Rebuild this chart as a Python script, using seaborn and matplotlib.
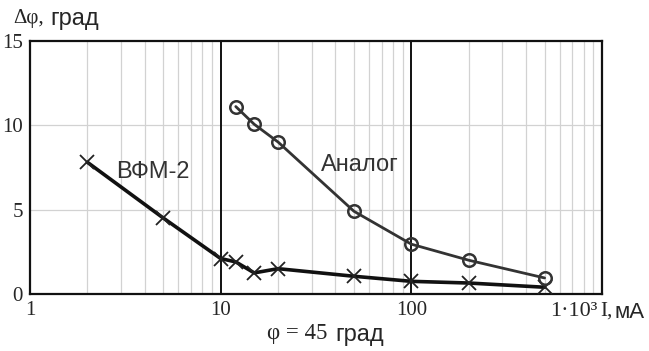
import numpy as np
import pandas as pd
import seaborn as sns
import matplotlib.pyplot as plt

# ВФМ-2 (crosses)
vfm_I = [2, 5, 10, 12, 15, 20, 50, 100, 200, 500]
vfm_dphi = [7.8, 4.5, 2.1, 1.9, 1.25, 1.5, 1.05, 0.75, 0.65, 0.4]

# Аналог (circles)
an_I = [12, 15, 20, 50, 100, 200, 500]
an_dphi = [11.1, 10.05, 9.0, 4.9, 2.95, 2.0, 0.95]

yticks = [0, 5, 10, 15]
xticks = [1, 10, 100]
xticklabels = ["1", "10", "100"]

sns.set_style("white")
serif = ["Liberation Serif", "DejaVu Serif"]
sans = ["Liberation Sans", "DejaVu Sans"]

fig = plt.figure(figsize=(6.49, 3.51), dpi=100)
ax = fig.add_axes([30 / 649, 1 - 294 / 351, 572 / 649, 253.3 / 351])

df_v = pd.DataFrame({"I": vfm_I, "d": vfm_dphi})
df_a = pd.DataFrame({"I": an_I, "d": an_dphi})

sns.lineplot(data=df_v, x="I", y="d", ax=ax, color="#111111", lw=2.6,
             marker="x", markersize=10, markeredgewidth=1.3,
             markeredgecolor="#222222", zorder=5)
sns.lineplot(data=df_a, x="I", y="d", ax=ax, color="#333333", lw=2.0,
             marker="o", markersize=9, markerfacecolor="none",
             markeredgewidth=1.8, markeredgecolor="#333333", zorder=5)

ax.set_xscale("log")
ax.set_xlim(1, 1000)
ax.set_ylim(0, 15)

# grid
minor = [m * 10 ** d for d in range(3) for m in range(2, 10)]
for v in minor:
    ax.axvline(v, color="#d2d2d2", lw=0.9, zorder=1)
for v in [5, 10]:
    ax.axhline(v, color="#d2d2d2", lw=0.9, zorder=1)
for v in [10, 100]:
    ax.axvline(v, color="#111111", lw=1.4, zorder=2)

for s in ax.spines.values():
    s.set_color("#111111")
    s.set_linewidth(1.6)

ax.set_xticks(xticks)
ax.set_xticklabels(xticklabels, fontfamily=serif, fontsize=15)
ax.set_yticks(yticks)
ax.set_yticklabels([str(t) for t in yticks], fontfamily=serif, fontsize=15)
ax.minorticks_off()
ax.tick_params(length=0, pad=5)
ax.set_xlabel("")
ax.set_ylabel("")

ax.text(153 / 649, 1 - 172 / 351, "ВФМ-2", transform=fig.transFigure,
        fontfamily=sans, fontsize=17, ha="center", va="center", color="#333333")
ax.text(360 / 649, 1 - 165 / 351, "Аналог", transform=fig.transFigure,
        fontfamily=sans, fontsize=17, ha="center", va="center", color="#333333")

# axis captions
fig.text(13 / 649, 1 - 18 / 351, "Δφ,", fontfamily=serif, fontsize=15,
         ha="left", va="center")
fig.text(50 / 649, 1 - 19 / 351, "град", fontfamily=sans, fontsize=17,
         ha="left", va="center")
fig.text(550 / 649, 1 - 311 / 351, "1·10³", fontfamily=serif, fontsize=16,
         ha="left", va="center")
fig.text(600 / 649, 1 - 311 / 351, "I,", fontfamily=serif, fontsize=15,
         ha="left", va="center")
fig.text(615 / 649, 1 - 312 / 351, "мА", fontfamily=sans, fontsize=16,
         ha="left", va="center")
fig.text(267 / 649, 1 - 334 / 351, "φ = 45", fontfamily=serif, fontsize=16.5,
         ha="left", va="center")
fig.text(335 / 649, 1 - 335 / 351, "град", fontfamily=sans, fontsize=17,
         ha="left", va="center")

fig.savefig("out.png", dpi=100)
